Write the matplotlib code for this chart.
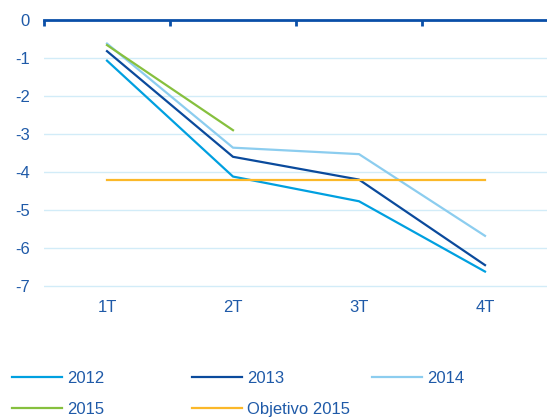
import numpy as np
import matplotlib
matplotlib.use("Agg")
import matplotlib.pyplot as plt
from matplotlib.ticker import FixedLocator

quarters = ['1T', '2T', '3T', '4T']
s2012 = [-1.07, -4.12, -4.77, -6.62]
s2013 = [-0.82, -3.6, -4.2, -6.45]
s2014 = [-0.62, -3.36, -3.53, -5.68]
s2015 = [-0.66, -2.9]
objetivo = [-4.2, -4.2, -4.2, -4.2]

txt = '#1f5aa8'
plt.rcParams['font.family'] = ['Liberation Sans', 'DejaVu Sans']

W, H = 547, 419
fig = plt.figure(figsize=(W / 100, H / 100), dpi=100)
ax = fig.add_axes([44 / W, 1 - 297.4 / H, 504 / W, (297.4 - 20) / H])

x = np.arange(len(quarters))
lw = 1.6
l12, = ax.plot(x, s2012, color='#00a0e0', lw=lw, label='2012')
l13, = ax.plot(x, s2013, color='#0a4a9c', lw=lw, label='2013')
l14, = ax.plot(x, s2014, color='#8ccdef', lw=lw, label='2014')
l15, = ax.plot(x[:len(s2015)], s2015, color='#86c03e', lw=lw, label='2015')
lob, = ax.plot(x, objetivo, color='#fbb829', lw=lw, label='Objetivo 2015')

ax.set_xlim(-0.5, len(quarters) - 0.5)
ax.set_ylim(-7.3, 0)
ax.set_yticks(range(-7, 1))
ax.set_yticklabels([str(v) for v in range(-7, 1)])
for v in range(-7, 0):
    ax.axhline(v, color='#d2ecf8', lw=1, zorder=0)

ax.set_xticks(x)
ax.set_xticklabels(quarters)
ax.tick_params(axis='x', which='major', length=0, pad=2, labelsize=12, labelcolor=txt)
ax.tick_params(axis='y', length=0, pad=10, labelsize=12, labelcolor=txt)

# zero line on top with ticks between quarters
ax.xaxis.set_minor_locator(FixedLocator(np.arange(-0.5, len(quarters), 1)))
ax.tick_params(axis='x', which='minor', top=True, bottom=False, direction='in',
               length=4, width=2, color='#0a4fa8')
for s in ['left', 'right', 'bottom']:
    ax.spines[s].set_visible(False)
ax.spines['top'].set_color('#0a4fa8')
ax.spines['top'].set_linewidth(2)

# legend: three equal-width columns, filled row by row
columns = [[l12, l15], [l13, lob], [l14]]
col_x = [12, 192, 372]
for hs, cx in zip(columns, col_x):
    fig.legend(handles=hs, labels=[h.get_label() for h in hs],
               loc='upper left', bbox_to_anchor=(cx / W, 1 - 371 / H),
               frameon=False, fontsize=12, handlelength=3.0, handletextpad=0.3,
               labelspacing=0.95, borderpad=0, borderaxespad=0, labelcolor=txt)

fig.savefig('out.png', dpi=100)
